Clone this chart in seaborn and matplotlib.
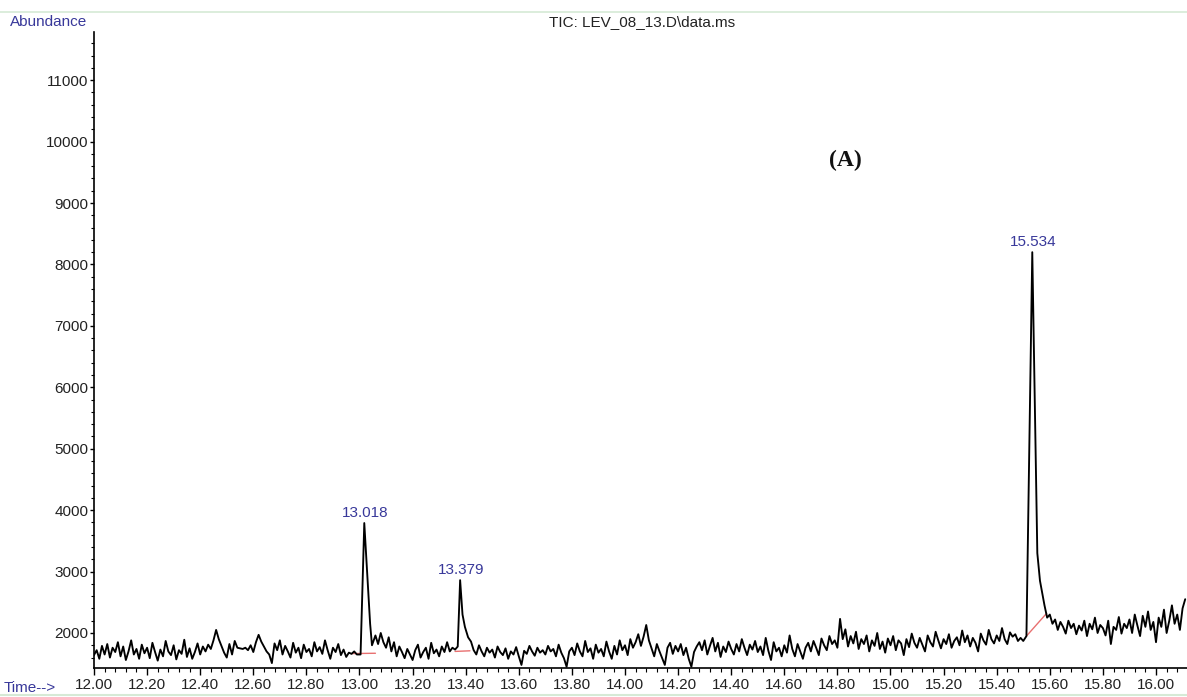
import numpy as np
import pandas as pd
import matplotlib
matplotlib.use("Agg")
import matplotlib.pyplot as plt
from matplotlib.lines import Line2D
from matplotlib.ticker import MultipleLocator, FormatStrFormatter
import seaborn as sns

# ---- scan data: baseline sampled every 0.01 min from 12.00 to 16.11 ----
scan_start = 12.00
scan_step = 0.01
baseline = [
    1640, 1720, 1580, 1790, 1650, 1820, 1600, 1760, 1690, 1850,   # 12.0x
    1620, 1780, 1560, 1700, 1880, 1650, 1740, 1580, 1810, 1670,   # 12.1x
    1760, 1590, 1840, 1690, 1550, 1730, 1620, 1870, 1700, 1640,   # 12.2x
    1800, 1570, 1720, 1660, 1890, 1610, 1750, 1580, 1690, 1830,   # 12.3x
    1650, 1780, 1700, 1810, 1740, 1880, 2050, 1900, 1790, 1680,   # 12.4x
    1600, 1820, 1650, 1870, 1760, 1750, 1740, 1760, 1720, 1800,   # 12.5x
    1690, 1850, 1970, 1860, 1780, 1700, 1650, 1510, 1830, 1720,   # 12.6x
    1880, 1650, 1790, 1700, 1600, 1840, 1680, 1760, 1590, 1810,   # 12.7x
    1690, 1740, 1620, 1850, 1700, 1770, 1660, 1880, 1720, 1580,   # 12.8x
    1760, 1690, 1820, 1640, 1730, 1610, 1680, 1660, 1700, 1650,   # 12.9x
    1650, 1700, 1700, 1700, 1700, 1720, 1960, 1820, 2000, 1850,   # 13.0x
    1760, 1930, 1700, 1850, 1620, 1780, 1690, 1590, 1740, 1650,   # 13.1x
    1560, 1720, 1810, 1600, 1690, 1760, 1580, 1840, 1670, 1730,   # 13.2x
    1620, 1780, 1690, 1850, 1700, 1760, 1730, 1760, 1760, 1780,   # 13.3x
    1800, 1900, 1860, 1720, 1650, 1800, 1700, 1620, 1760, 1680,   # 13.4x
    1730, 1600, 1780, 1690, 1640, 1750, 1580, 1700, 1650, 1770,   # 13.5x
    1620, 1480, 1710, 1660, 1790, 1700, 1630, 1760, 1680, 1720,   # 13.6x
    1650, 1790, 1700, 1740, 1620, 1810, 1680, 1590, 1450, 1700,   # 13.7x
    1760, 1640, 1830, 1700, 1620, 1870, 1690, 1750, 1580, 1810,   # 13.8x
    1680, 1740, 1620, 1860, 1700, 1580, 1790, 1650, 1880, 1720,   # 13.9x
    1800, 1640, 1900, 1760, 1850, 1980, 1790, 1940, 2130, 1880,   # 14.0x
    1750, 1620, 1820, 1700, 1590, 1480, 1760, 1840, 1660, 1790,   # 14.1x
    1700, 1820, 1640, 1760, 1580, 1450, 1690, 1780, 1850, 1720,   # 14.2x
    1880, 1650, 1790, 1920, 1700, 1840, 1610, 1780, 1690, 1860,   # 14.3x
    1740, 1650, 1820, 1700, 1900, 1760, 1640, 1810, 1730, 1870,   # 14.4x
    1690, 1780, 1640, 1920, 1710, 1560, 1850, 1700, 1760, 1620,   # 14.5x
    1800, 1680, 1960, 1740, 1620, 1820, 1700, 1580, 1760, 1840,   # 14.6x
    1700, 1870, 1760, 1640, 1910, 1800, 1720, 1950, 1820, 1880,   # 14.7x
    1760, 2230, 1900, 2060, 1780, 1950, 1830, 2020, 1740, 1900,   # 14.8x
    1820, 1960, 1700, 1880, 1790, 2000, 1740, 1860, 1680, 1910,   # 14.9x
    1800, 1950, 1720, 1880, 1830, 1640, 1900, 1770, 1990, 1840,   # 15.0x
    1760, 1920, 1810, 1700, 1960, 1850, 1780, 2020, 1880, 1750,   # 15.1x
    1900, 1820, 1980, 1760, 1870, 1930, 1800, 2040, 1850, 1960,   # 15.2x
    1780, 1920, 1840, 1700, 1990, 1880, 1810, 2050, 1900, 1830,   # 15.3x
    1960, 1870, 2080, 1900, 1820, 2010, 1940, 1980, 1870, 1920,   # 15.4x
    1870, 1950, 2000, 2100, 2200, 2250, 2300, 2350, 2350, 2250,   # 15.5x
    2300, 2150, 2220, 2050, 2180, 2100, 1990, 2200, 2080, 2150,   # 15.6x
    1980, 2120, 2040, 2200, 1950, 2150, 2060, 2250, 2000, 2130,   # 15.7x
    2080, 1960, 2200, 1820, 2100, 2050, 2260, 1990, 2150, 2080,   # 15.8x
    2220, 2000, 2300, 2120, 1950, 2280, 2100, 2350, 2050, 2180,   # 15.9x
    1850, 2250, 2100, 2380, 2000, 2200, 2450, 2150, 2300, 2050,   # 16.0x
    2400, 2550,                                                   # 16.1x
]

# ---- integrated peaks: retention time, apex abundance and trace around each apex ----
peak_rt = [13.018, 13.379, 15.534]
peak_apex = [3790, 2860, 8200]
peak_trace_t = [
    [13.004, 13.018, 13.030, 13.040, 13.047],
    [13.370, 13.379, 13.388, 13.397, 13.409],
    [15.512, 15.534, 15.553, 15.563, 15.580],
]
peak_trace_y = [
    [1650, 3790, 2900, 2150, 1800],
    [1780, 2860, 2300, 2100, 1930],
    [1950, 8200, 3300, 2850, 2450],
]
# integration baselines (start time, start abundance, end time, end abundance)
base_t0 = [12.970, 13.360, 15.512]
base_y0 = [1665, 1700, 1950]
base_t1 = [13.060, 13.416, 15.588]
base_y1 = [1670, 1710, 2320]

x_ticks = [12.00, 12.20, 12.40, 12.60, 12.80, 13.00, 13.20, 13.40, 13.60, 13.80,
           14.00, 14.20, 14.40, 14.60, 14.80, 15.00, 15.20, 15.40, 15.60, 15.80, 16.00]
y_ticks = [2000, 3000, 4000, 5000, 6000, 7000, 8000, 9000, 10000, 11000]

# ---- assemble the trace ----
scan_t = np.round(scan_start + scan_step * np.arange(len(baseline)), 3)
keep = np.ones(len(scan_t), dtype=bool)
for ts in peak_trace_t:
    keep &= ~((scan_t >= ts[0] - 0.006) & (scan_t <= ts[-1] + 0.004))
t_all = np.concatenate([scan_t[keep]] + [np.array(t) for t in peak_trace_t])
y_all = np.concatenate([np.array(baseline)[keep]] + [np.array(y) for y in peak_trace_y])
order = np.argsort(t_all)
df = pd.DataFrame({"time": t_all[order], "abundance": y_all[order]})

# ---- styling ----
sns.set_theme(style="white")
plt.rcParams["font.family"] = ["Liberation Sans", "DejaVu Sans"]
W, H = 1187, 697
fig = plt.figure(figsize=(W / 100, H / 100), dpi=100)
fig.patch.set_facecolor("white")

ax_left, ax_right, ax_top, ax_bottom = 94, 1187, 32, 668
ax = fig.add_axes([ax_left / W, 1 - ax_bottom / H,
                   (ax_right - ax_left) / W, (ax_bottom - ax_top) / H])
ax.set_facecolor("white")

sns.lineplot(data=df, x="time", y="abundance", ax=ax, color="black",
             linewidth=1.35, estimator=None, sort=False)

for x0, y0, x1, y1 in zip(base_t0, base_y0, base_t1, base_y1):
    ax.plot([x0, x1], [y0, y1], color="#e87070", linewidth=1.0, zorder=1)

label_blue = "#38389a"
for rt, apex in zip(peak_rt, peak_apex):
    ax.annotate(f"{rt:.3f}", xy=(rt, apex), xytext=(1, 2), textcoords="offset points",
                ha="center", va="bottom", fontsize=11, color=label_blue)

ax.set_xlim(12.0, 12.0 + (ax_right - ax_left) / 265.5)
ax.set_ylim(1430, 11785)
ax.set_xlabel("")
ax.set_ylabel("")

ax.xaxis.set_major_locator(plt.FixedLocator(x_ticks))
ax.xaxis.set_minor_locator(MultipleLocator(0.04))
ax.xaxis.set_major_formatter(FormatStrFormatter("%.2f"))
ax.yaxis.set_major_locator(plt.FixedLocator(y_ticks))
ax.yaxis.set_minor_locator(MultipleLocator(200))

for side in ["top", "right"]:
    ax.spines[side].set_visible(False)
for side in ["left", "bottom"]:
    ax.spines[side].set_color("black")
    ax.spines[side].set_linewidth(1.2)

ax.tick_params(axis="x", which="major", direction="out", length=5, width=1.0,
               pad=2.5, labelsize=11, colors="black", labelcolor="#222222", bottom=True)
ax.tick_params(axis="x", which="minor", direction="out", length=3, width=0.8,
               colors="black", bottom=True)
ax.tick_params(axis="y", which="major", direction="out", length=3, width=1.0,
               pad=1, labelsize=11, colors="black", labelcolor="#222222", left=True)
ax.tick_params(axis="y", which="minor", direction="out", length=2, width=0.8,
               colors="black", left=True)

# header and axis captions
fig.text(10 / W, 1 - 22 / H, "Abundance", ha="left", va="center",
         fontsize=11, color=label_blue)
fig.text(642 / W, 1 - 22 / H, "TIC: LEV_08_13.D\\data.ms", ha="center", va="center",
         fontsize=11, color="#222222")
fig.text(4 / W, 1 - 688 / H, "Time-->", ha="left", va="center",
         fontsize=11, color=label_blue)
fig.text(845 / W, 1 - 160 / H, "(A)", ha="center", va="center", fontsize=17,
         fontweight="bold", family=["Liberation Serif", "DejaVu Serif"], color="#111111")

# thin frame rules across the page
fig.add_artist(Line2D([0, 1], [1 - 12 / H, 1 - 12 / H], color="#d6ead6", linewidth=1.2))
fig.add_artist(Line2D([0, 1], [1 - 695 / H, 1 - 695 / H], color="#d6ead6", linewidth=1.5))

fig.savefig("out.png", dpi=100, facecolor="white")
